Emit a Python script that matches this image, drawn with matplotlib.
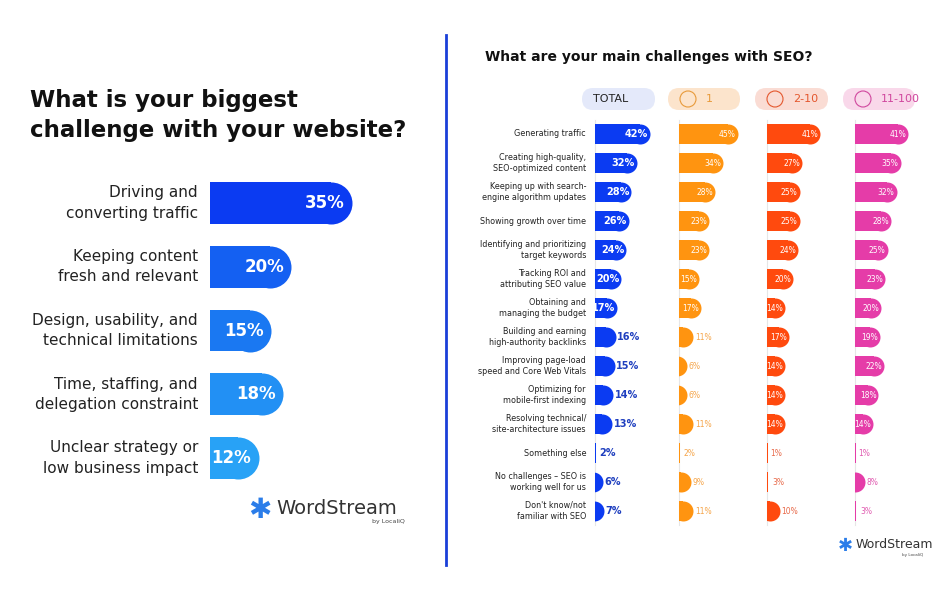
import matplotlib
matplotlib.use("Agg")
import matplotlib.pyplot as plt
from matplotlib.patches import FancyBboxPatch
from matplotlib.lines import Line2D

W, H = 936, 600
left_cats = ["Driving and\nconverting traffic", "Keeping content\nfresh and relevant",
             "Design, usability, and\ntechnical limitations", "Time, staffing, and\ndelegation constraint",
             "Unclear strategy or\nlow business impact"]
left_vals = [35, 20, 15, 18, 12]
left_colors = ["#0B3BF2", "#1460F2", "#1A78F2", "#2290F4", "#28A2F6"]

right_cats = ["Generating traffic", "Creating high-quality,\nSEO-optimized content",
              "Keeping up with search-\nengine algorithm updates", "Showing growth over time",
              "Identifying and prioritizing\ntarget keywords", "Tracking ROI and\nattributing SEO value",
              "Obtaining and\nmanaging the budget", "Building and earning\nhigh-authority backlinks",
              "Improving page-load\nspeed and Core Web Vitals", "Optimizing for\nmobile-first indexing",
              "Resolving technical/\nsite-architecture issues", "Something else",
              "No challenges – SEO is\nworking well for us", "Don't know/not\nfamiliar with SEO"]
total = [42, 32, 28, 26, 24, 20, 17, 16, 15, 14, 13, 2, 6, 7]
size_1 = [45, 34, 28, 23, 23, 15, 17, 11, 6, 6, 11, 2, 9, 11]
size_2_10 = [41, 27, 25, 25, 24, 20, 14, 17, 14, 14, 14, 1, 3, 10]
size_11_100 = [41, 35, 32, 28, 25, 23, 20, 19, 22, 18, 14, 1, 8, 3]
headers = ["TOTAL", "1", "2-10", "11-100"]

fig = plt.figure(figsize=(9.36, 6.0), dpi=100)
fig.patch.set_facecolor("white")

def px_axes(x0, y0, x1, y1):
    return fig.add_axes([x0 / W, 1 - y1 / H, (x1 - x0) / W, (y1 - y0) / H])

bg = px_axes(0, 0, W, H)
bg.set_xlim(0, W); bg.set_ylim(H, 0); bg.axis("off")

# ---- left panel
bg.text(30, 100, "What is your biggest", fontsize=16.5, fontweight="bold", va="center", color="#111111")
bg.text(30, 131, "challenge with your website?", fontsize=16.5, fontweight="bold", va="center", color="#111111")

def capped_bars(ax, vals, color, px_per_unit, bar_px, labels_inside, lab_color_in, lab_color_out,
                fs, bold, thresh):
    n = len(vals)
    r = bar_px / 2 / px_per_unit
    bh_frac = bar_px / (ax.bbox.height / n * 100 / fig.dpi * fig.dpi / 100)
    for i, v in enumerate(vals):
        w = max(v - r, 0)
        ax.barh(i, w, height=bh_frac, color=color, linewidth=0)
        ax.plot([v - r], [i], marker="o", markersize=bar_px * 72 / 100, color=color,
                markeredgewidth=0, clip_on=True)
        if v >= thresh:
            ax.text(v - r * 0.5, i, f"{v}%", ha="right", va="center", color=lab_color_in,
                    fontsize=fs, fontweight="bold" if bold else "normal", clip_on=False)
        else:
            ax.text(v + r * 0.25 if v > r else max(v, 0.8) + 0.8, i, f"{v}%", ha="left", va="center",
                    color=lab_color_out, fontsize=fs, fontweight="bold" if bold else "normal", clip_on=False)
    ax.set_ylim(n - 0.5, -0.5)
    ax.axis("off")

axL = px_axes(210, 171, 420, 490)
axL.set_xlim(0, 210 / 4.06)
n = len(left_vals)
for i, (v, c) in enumerate(zip(left_vals, left_colors)):
    r = 21 / 4.06
    axL.barh(i, v - r, height=42 / 64, color=c, linewidth=0)
    axL.plot([v - r], [i], marker="o", markersize=42 * 0.72, color=c, markeredgewidth=0)
    axL.text(v - 1.8, i, f"{v}%", ha="right", va="center", color="white", fontsize=12, fontweight="bold")
axL.set_ylim(n - 0.5, -0.5); axL.axis("off")
for i, cat in enumerate(left_cats):
    y = 203 + i * 63.75
    bg.text(198, y, cat, ha="right", va="center", fontsize=11, color="#222222", linespacing=1.45)

# logo left
bg.text(260, 510, "✱", fontsize=20, color="#2B7DE9", ha="center", va="center")
bg.text(276, 508, "WordStream", fontsize=14, color="#333333", va="center")
bg.text(372, 522, "by LocaliQ", fontsize=4.5, color="#444444", va="center")

# divider
bg.plot([446, 446], [35, 565], color="#1A3FD8", lw=2)

# ---- right panel
bg.text(485, 57, "What are your main challenges with SEO?", fontsize=10, fontweight="bold",
        va="center", color="#111111")
pill_specs = [(582, 655, "#E4E9FA"), (668, 740, "#FCE4CC"), (755, 828, "#FADCD4"), (843, 915, "#F9D8EA")]
head_text_col = ["#222222", "#E89A3A", "#E4572E", "#D0479E"]
for (x0, x1, c), h, tc in zip(pill_specs, headers, head_text_col):
    bg.add_patch(FancyBboxPatch((x0 + 12, 88), x1 - x0 - 24, 22, boxstyle="round,pad=0,rounding_size=11",
                                fc=c, ec="none", mutation_aspect=1))
    bg.add_patch(FancyBboxPatch((x0, 88), x1 - x0, 22, boxstyle="round,pad=0,rounding_size=11",
                                fc=c, ec="none"))
    if h == "TOTAL":
        bg.text((x0 + x1) / 2 - 8, 99, h, ha="center", va="center", fontsize=8, color=tc)
    else:
        bg.text(x0 + 38, 99, h, ha="left", va="center", fontsize=8, color=tc)
        bg.add_patch(plt.Circle((x0 + 20, 99), 8, fill=False, ec=tc, lw=0.8))

for i, cat in enumerate(right_cats):
    bg.text(586, 134 + i * 29, cat, ha="right", va="center", fontsize=5.8, color="#222222", linespacing=1.3)

col_x = [595, 679, 767, 855]
series = [total, size_1, size_2_10, size_11_100]
colors = ["#0B3BF2", "#FF9410", "#FF4A0E", "#E53CA8"]
out_cols = ["#1F3FBF", "#F5A54A", "#E86A4A", "#E05AB0"]
ppu = 1.3
for x0, vals, c, oc, k in zip(col_x, series, colors, out_cols, range(4)):
    bg.plot([x0, x0], [120, 525], color="#E6E6E6", lw=0.8, zorder=0)
    ax = px_axes(x0, 119.5, x0 + 85, 525.5)
    ax.set_xlim(0, 85 / ppu)
    nr = len(vals)
    r = 10 / ppu
    for i, v in enumerate(vals):
        ax.barh(i, max(v - r, 0), height=20 / 29, color=c, linewidth=0)
        if v >= 4:
            ax.plot([v - r], [i], marker="o", markersize=20 * 0.72, color=c, markeredgewidth=0)
        else:
            ax.barh(i, 0.9, height=20 / 29, color=c, linewidth=0)
        bold = k == 0
        fs = 7 if bold else 5.5
        if v >= 17 or (k > 0 and v >= 12):
            ax.text(v - 1.5, i, f"{v}%", ha="right", va="center", color="white", fontsize=fs,
                    fontweight="bold" if bold else "normal")
        else:
            ax.text(max(v, 1) + 1.2, i, f"{v}%", ha="left", va="center", color=oc, fontsize=fs,
                    fontweight="bold" if bold else "normal")
    ax.set_ylim(nr - 0.5, -0.5)
    ax.axis("off")

bg.text(845, 546, "✱", fontsize=13, color="#2B7DE9", ha="center", va="center")
bg.text(856, 545, "WordStream", fontsize=9, color="#333333", va="center")
bg.text(902, 555, "by LocaliQ", fontsize=3, color="#444444", va="center")

fig.savefig("out.png", dpi=100)
